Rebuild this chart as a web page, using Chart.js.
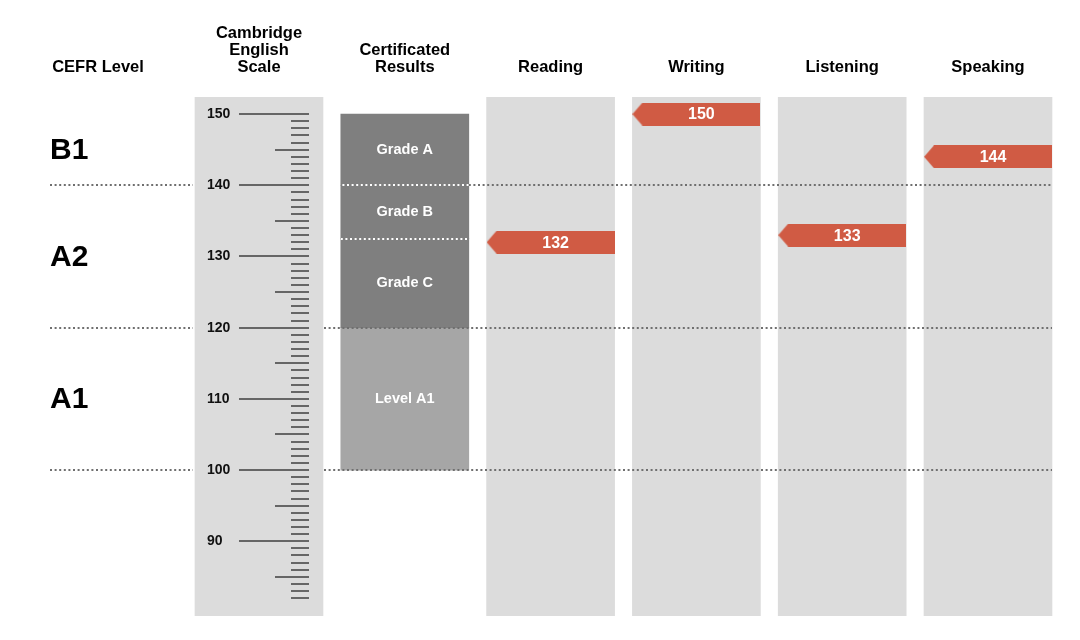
<!DOCTYPE html>
<html>
<head>
<meta charset="utf-8">
<title>Cambridge English Scale results</title>
<script src="https://cdn.jsdelivr.net/npm/chart.js@4.4.0/dist/chart.umd.min.js"></script>
<style>
  html, body { margin: 0; padding: 0; background: #fff; }
</style>
</head>
<body>
<canvas id="chart" width="1080" height="640"></canvas>
<script>
// column headers, first one is the CEFR label column
var headers = ["CEFR Level", ["Cambridge", "English", "Scale"], ["Certificated", "Results"], "Reading", "Writing", "Listening", "Speaking"];

// CEFR bands on the Cambridge English Scale
var cefrLevels = ["A1", "A2", "B1"];
var cefrBounds = [100, 120, 140, 150];

// certificated result bands (bottom to top)
var gradeNames = ["Level A1", "Grade C", "Grade B", "Grade A"];
var gradeBounds = [100, 120, 132.5, 140, 150];

// ruler labels and range
var scaleLabels = [90, 100, 110, 120, 130, 140, 150];
var rulerMin = 82;
var rulerMax = 150;

// skill scores
var skills = ["Reading", "Writing", "Listening", "Speaking"];
var scores = [132, 150, 133, 144];

var FONT = "'Liberation Sans', Arial, Helvetica, sans-serif";
var PANEL = "#dcdcdc";
var DARK = "#7f7f7f";
var LIGHT = "#a6a6a6";
var RED = "#d05b44";
var Y_MIN = 79.5, Y_MAX = 152.4;
var X_MIN = -1.7764, X_MAX = 5.631;
var CEFR_COL = -1.104;

// tag marker used as point style
function makeTag(w, h, tip, color) {
  var c = document.createElement("canvas");
  c.width = w;
  c.height = h;
  var g = c.getContext("2d");
  g.fillStyle = color;
  g.beginPath();
  g.moveTo(tip, 0);
  g.lineTo(w, 0);
  g.lineTo(w, h);
  g.lineTo(tip, h);
  g.lineTo(0, h / 2);
  g.closePath();
  g.fill();
  return c;
}
var tag = makeTag(128, 23, 10, RED);

var panelCols = [0, 2, 3, 4, 5];

var overlay = {
  id: "overlay",
  afterDatasetsDraw: function (chart) {
    var ctx = chart.ctx;
    var xs = chart.scales.x, ys = chart.scales.y;
    var half = 64;
    var rulerX = xs.getPixelForValue(0);
    var gradeX = xs.getPixelForValue(1);
    var rightEnd = xs.getPixelForValue(5) + half;
    ctx.save();

    // dotted CEFR boundaries (white where they cross the dark grade bar)
    ctx.lineWidth = 2;
    ctx.setLineDash([2, 2.6]);
    cefrBounds.slice(0, 3).forEach(function (v) {
      var y = Math.round(ys.getPixelForValue(v));
      var insideDark = v > gradeBounds[1] && v < gradeBounds[4];
      ctx.strokeStyle = "#6f6f6f";
      ctx.beginPath();
      ctx.moveTo(50, y);
      ctx.lineTo(rulerX - half - 2, y);
      if (insideDark) {
        ctx.moveTo(gradeX + half, y);
      } else {
        ctx.moveTo(rulerX + half + 1, y);
      }
      ctx.lineTo(rightEnd, y);
      ctx.stroke();
      if (insideDark) {
        ctx.strokeStyle = "#ffffff";
        ctx.beginPath();
        ctx.moveTo(rulerX + half + 1, y);
        ctx.lineTo(gradeX + half, y);
        ctx.stroke();
      }
    });
    // grade B / C separator
    ctx.strokeStyle = "#ffffff";
    var yBC = Math.round(ys.getPixelForValue(gradeBounds[2]));
    ctx.beginPath();
    ctx.moveTo(gradeX - half, yBC);
    ctx.lineTo(gradeX + half, yBC);
    ctx.stroke();
    ctx.setLineDash([]);

    // ruler
    ctx.strokeStyle = "#666666";
    ctx.lineWidth = 2;
    for (var v = rulerMin; v <= rulerMax; v++) {
      var y = Math.round(ys.getPixelForValue(v));
      var x0 = v % 10 === 0 ? rulerX - 20 : (v % 5 === 0 ? rulerX + 16 : rulerX + 32);
      ctx.beginPath();
      ctx.moveTo(x0, y);
      ctx.lineTo(rulerX + 50, y);
      ctx.stroke();
    }
    ctx.fillStyle = "#111";
    ctx.font = "bold 14px " + FONT;
    ctx.textAlign = "left";
    ctx.textBaseline = "middle";
    scaleLabels.forEach(function (v) {
      ctx.fillText(String(v), rulerX - 52, ys.getPixelForValue(v));
    });

    // CEFR level labels
    ctx.font = "bold 30px " + FONT;
    ctx.fillStyle = "#000";
    cefrLevels.forEach(function (lv, i) {
      ctx.fillText(lv, 50, ys.getPixelForValue((cefrBounds[i] + cefrBounds[i + 1]) / 2) + 1);
    });

    // grade labels
    ctx.font = "bold 14.5px " + FONT;
    ctx.fillStyle = "#fff";
    ctx.textAlign = "center";
    gradeNames.forEach(function (g, i) {
      ctx.fillText(g, gradeX, ys.getPixelForValue((gradeBounds[i] + gradeBounds[i + 1]) / 2));
    });

    // score values on the tags
    ctx.font = "bold 16px " + FONT;
    var meta = chart.getDatasetMeta(0);
    meta.data.forEach(function (pt, i) {
      ctx.fillText(String(scores[i]), pt.x + 5, pt.y + 1);
    });
    ctx.restore();
  }
};

new Chart(document.getElementById("chart"), {
  type: "bar",
  data: {
    datasets: [
      {
        type: "line",
        label: "Scores",
        data: skills.map(function (s, i) { return { x: i + 2, y: scores[i] }; }),
        showLine: false,
        pointStyle: tag,
        pointRadius: 2,
        pointBorderWidth: 0,
        order: 1
      },
      {
        label: "Certificated",
        data: gradeNames.map(function (g, i) { return { x: 1, y: [gradeBounds[i], gradeBounds[i + 1]] }; }),
        backgroundColor: gradeNames.map(function (g, i) { return i === 0 ? LIGHT : DARK; }),
        grouped: false,
        order: 2
      },
      {
        label: "Panels",
        data: panelCols.map(function (c) { return { x: c, y: [Y_MIN, Y_MAX] }; }),
        backgroundColor: PANEL,
        grouped: false,
        order: 3
      }
    ]
  },
  options: {
    responsive: false,
    animation: false,
    events: [],
    categoryPercentage: 1,
    barPercentage: 1,
    maxBarThickness: 128,
    layout: { autoPadding: false, padding: { top: 0, left: 0, right: 0, bottom: 24 } },
    plugins: { legend: { display: false }, tooltip: { enabled: false } },
    scales: {
      x: {
        type: "linear",
        position: "top",
        offset: false,
        min: X_MIN,
        max: X_MAX,
        grid: { display: false, drawTicks: false, offset: false },
        border: { display: false },
        afterBuildTicks: function (scale) {
          scale.ticks = [CEFR_COL, 0, 1, 2, 3, 4, 5].map(function (v) { return { value: v }; });
        },
        afterFit: function (scale) {
          scale.height = 97;
          scale.paddingLeft = 0;
          scale.paddingRight = 0;
        },
        ticks: {
          autoSkip: false,
          maxRotation: 0,
          padding: 21,
          color: "#000",
          font: { family: FONT, size: 16.5, weight: "bold", lineHeight: 17 / 16.5 },
          callback: function (v, i) { return headers[i]; }
        }
      },
      y: {
        type: "linear",
        display: false,
        min: Y_MIN,
        max: Y_MAX
      }
    }
  },
  plugins: [overlay]
});
</script>
</body>
</html>
